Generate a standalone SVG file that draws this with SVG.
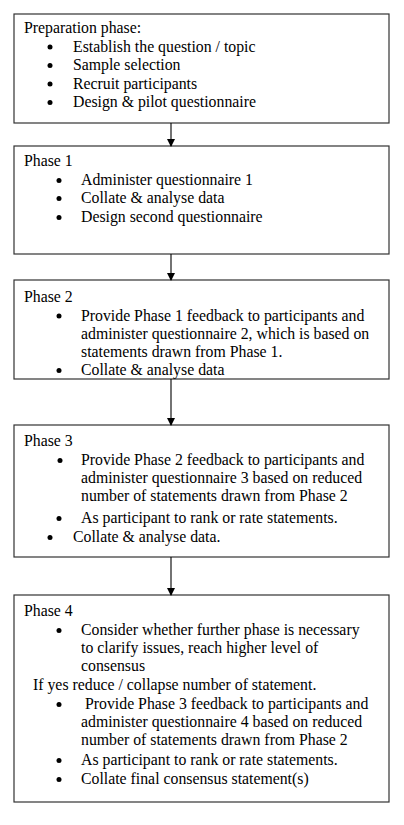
<svg xmlns="http://www.w3.org/2000/svg" width="404" height="825" viewBox="0 0 404 825">
<style>
.box{fill:#fff;stroke:#333;stroke-width:1.2}
text{font-family:"Liberation Serif","Times New Roman",serif;font-size:15.8px;fill:#000}
.dot{fill:#000}
.conn{stroke:#000;stroke-width:1.1;fill:none}
</style>
<defs>
<marker id="ah" markerWidth="8" markerHeight="9" refX="7" refY="4" orient="auto" markerUnits="userSpaceOnUse">
<path d="M0,0 L8,4 L0,8 z" fill="#000"/>
</marker>
</defs>
<rect width="404" height="825" fill="#fff"/>
<g id="prep">
<rect class="box" x="14" y="14" width="375" height="109"/>
<text x="24" y="33">Preparation phase:</text>
<circle class="dot" cx="50" cy="47" r="2.5"/><text x="73" y="51.5">Establish the question / topic</text>
<circle class="dot" cx="50" cy="65.5" r="2.5"/><text x="73" y="70">Sample selection</text>
<circle class="dot" cx="50" cy="84" r="2.5"/><text x="73" y="88.5">Recruit participants</text>
<circle class="dot" cx="50" cy="102.5" r="2.5"/><text x="73" y="107">Design &amp; pilot questionnaire</text>
</g>
<g id="phase1">
<rect class="box" x="14" y="146" width="375" height="108"/>
<text x="24" y="166">Phase 1</text>
<circle class="dot" cx="59" cy="180.5" r="2.5"/><text x="81" y="185">Administer questionnaire 1</text>
<circle class="dot" cx="59" cy="198.5" r="2.5"/><text x="81" y="203">Collate &amp; analyse data</text>
<circle class="dot" cx="59" cy="217.5" r="2.5"/><text x="81" y="222">Design second questionnaire</text>
</g>
<g id="phase2">
<rect class="box" x="14" y="280" width="375" height="99"/>
<text x="24" y="302">Phase 2</text>
<circle class="dot" cx="59" cy="316" r="2.5"/><text x="81" y="320.5">Provide Phase 1 feedback to participants and</text>
<text x="81" y="338.5">administer questionnaire 2, which is based on</text>
<text x="81" y="356.5">statements drawn from Phase 1.</text>
<circle class="dot" cx="59" cy="370.5" r="2.5"/><text x="81" y="375">Collate &amp; analyse data</text>
</g>
<g id="phase3">
<rect class="box" x="14" y="425" width="375" height="132"/>
<text x="24" y="446">Phase 3</text>
<circle class="dot" cx="60" cy="460.5" r="2.5"/><text x="81" y="465">Provide Phase 2 feedback to participants and</text>
<text x="81" y="483">administer questionnaire 3 based on reduced</text>
<text x="81" y="501">number of statements drawn from Phase 2</text>
<circle class="dot" cx="59" cy="518.5" r="2.5"/><text x="81" y="523">As participant to rank or rate statements.</text>
<circle class="dot" cx="50" cy="537.5" r="2.5"/><text x="73" y="542">Collate &amp; analyse data.</text>
</g>
<g id="phase4">
<rect class="box" x="14" y="595" width="375" height="207"/>
<text x="24" y="616">Phase 4</text>
<circle class="dot" cx="59" cy="630.5" r="2.5"/><text x="81" y="635">Consider whether further phase is necessary</text>
<text x="81" y="653">to clarify issues, reach higher level of</text>
<text x="81" y="671">consensus</text>
<text x="33" y="690">If yes reduce / collapse number of statement.</text>
<circle class="dot" cx="59" cy="704.5" r="2.5"/><text x="85" y="709">Provide Phase 3 feedback to participants and</text>
<text x="81" y="727">administer questionnaire 4 based on reduced</text>
<text x="81" y="745">number of statements drawn from Phase 2</text>
<circle class="dot" cx="59" cy="760.5" r="2.5"/><text x="81" y="765">As participant to rank or rate statements.</text>
<circle class="dot" cx="59" cy="779.5" r="2.5"/><text x="81" y="784">Collate final consensus statement(s)</text>
</g>
<g id="connectors">
<line class="conn" x1="171" y1="123" x2="171" y2="146" marker-end="url(#ah)"/>
<line class="conn" x1="171" y1="254" x2="171" y2="280" marker-end="url(#ah)"/>
<line class="conn" x1="171" y1="379" x2="171" y2="425" marker-end="url(#ah)"/>
<line class="conn" x1="171" y1="557" x2="171" y2="595" marker-end="url(#ah)"/>
</g>
</svg>
